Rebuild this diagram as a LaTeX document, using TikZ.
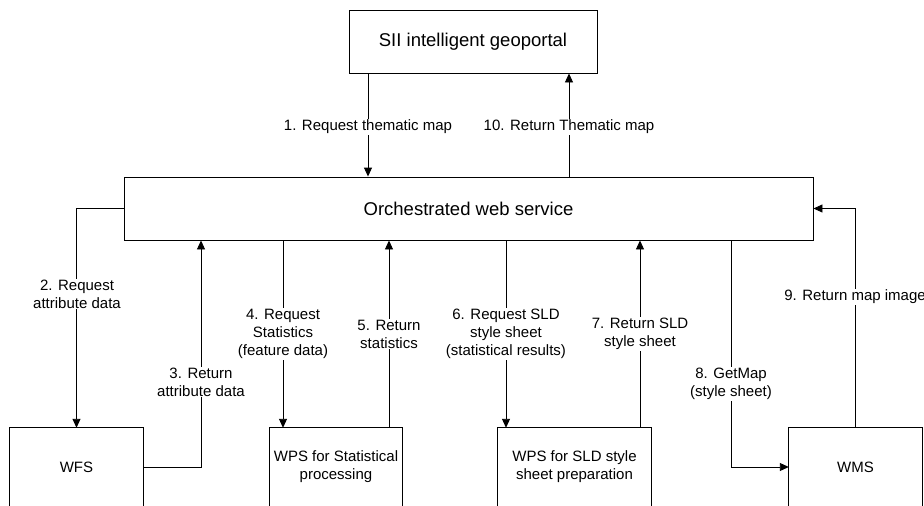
\documentclass[tikz,border=0pt]{standalone}
\usepackage{fontspec}
\setmainfont{Liberation Sans}
\usetikzlibrary{arrows.meta}
\begin{document}
\begin{tikzpicture}[x=1pt,y=-1pt,
  boxstyle/.style={draw, line width=0.9pt, inner sep=0pt, align=center},
  openbox/.style={inner sep=0pt, align=center, font=\fontsize{15}{18}\selectfont},
  big/.style={font=\fontsize{18.5}{22}\selectfont},
  lbl/.style={fill=white, inner sep=1pt, align=center, font=\fontsize{15}{18}\selectfont},
  arr/.style={line width=0.9pt, -{Triangle[length=9pt,width=8pt]}}]
\useasboundingbox (0,0) rectangle (924,506);
% main boxes
\node[boxstyle, big, minimum width=248pt, minimum height=63pt] (top) at (473,41.5) {SII intelligent geoportal};
\node[boxstyle, big, minimum width=689pt, minimum height=63pt] (orch) at (468.5,208.5) {Orchestrated web service};
% bottom boxes (cut off at the lower edge)
\node[openbox, minimum width=133pt, minimum height=78pt] (wfs) at (76.5,467) {WFS};
\node[openbox, minimum width=132pt, minimum height=78pt] (wps1) at (336,467) {WPS for Statistical\\processing};
\node[openbox, minimum width=153pt, minimum height=78pt] (wps2) at (574.5,467) {WPS for SLD style\\sheet preparation};
\node[openbox, minimum width=133pt, minimum height=78pt] (wms) at (855.5,467) {WMS};
\foreach \n in {wfs,wps1,wps2,wms}{
  \draw[line width=0.9pt] (\n.south west) |- (\n.north east) -- (\n.south east);
}
% connectors
\draw[arr] (368,0 |- top.south) -- (368,0 |- orch.north);
\draw[arr] (569,0 |- orch.north) -- (569,0 |- top.south);
\draw[arr] (orch.west) -| (wfs.north);
\draw[arr] (wfs.east) -| (201,0 |- orch.south);
\draw[arr] (283,0 |- orch.south) -- (283,0 |- wps1.north);
\draw[arr] (389,0 |- wps1.north) -- (389,0 |- orch.south);
\draw[arr] (506,0 |- orch.south) -- (506,0 |- wps2.north);
\draw[arr] (640,0 |- wps2.north) -- (640,0 |- orch.south);
\draw[arr] (731,0 |- orch.south) |- (wms.west);
\draw[arr] (wms.north) |- (orch.east);
% labels
\node[lbl] (l1) at (368,127) {1. Request thematic map};
\node[lbl] (l10) at (569,127) {10. Return Thematic map};
\node[lbl] (l2) at (77,294) {2. Request\\attribute data};
\node[lbl] (l3) at (201,382) {3. Return\\attribute data};
\node[lbl] (l4) at (283,334) {4. Request\\Statistics\\(feature data)};
\node[lbl] (l5) at (389,334) {5. Return\\statistics};
\node[lbl] (l6) at (506,334) {6. Request SLD\\style sheet\\(statistical results)};
\node[lbl] (l7) at (640,334) {7. Return SLD\\style sheet};
\node[lbl] (l8) at (731,384) {8. GetMap\\(style sheet)};
\node[lbl] (l9) at (855,297) {9. Return map image};
\end{tikzpicture}
\end{document}
